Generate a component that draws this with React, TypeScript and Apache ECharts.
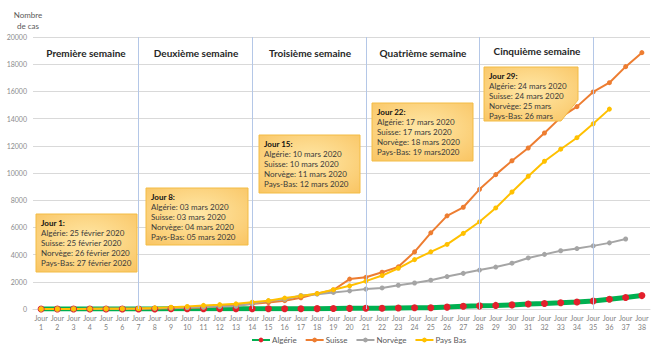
import React, { useEffect, useRef } from "react";
import * as echarts from "echarts";

const dayNumbers = [1,2,3,4,5,6,7,8,9,10,11,12,13,14,15,16,17,18,19,20,21,22,23,24,25,26,27,28,29,30,31,32,33,34,35,36,37,38];
const categories = dayNumbers.map((d) => "Jour\n" + d);

const algerie = [1,1,1,1,1,3,3,5,12,12,17,17,19,20,20,20,24,26,37,48,54,60,74,87,90,139,201,230,264,302,367,409,454,511,584,716,847,986];
const suisse = [1,1,8,8,15,15,27,42,56,90,114,214,268,370,470,610,830,1130,1400,2200,2330,2700,3100,4200,5600,6850,7480,8800,9880,10900,11840,12940,14090,14880,15960,16640,17820,18850];
const norvege = [1,1,6,15,19,25,32,56,87,108,147,176,205,400,598,702,996,1090,1221,1333,1463,1550,1746,1914,2118,2385,2621,2863,3084,3369,3755,4015,4284,4445,4641,4863,5147];
const paysBas = [1,2,7,10,18,24,38,82,128,188,265,321,382,503,614,804,959,1135,1413,1705,2051,2460,2994,3631,4204,4749,5560,6412,7431,8603,9762,10866,11750,12595,13614,14697];

const weekDividers = [7, 14, 21, 28, 35];
const weekTitles = ["Première semaine", "Deuxième semaine", "Troisième semaine", "Quatrième semaine", "Cinquième semaine"];

const notes = [
  { title: "Jour 1:", lines: ["Algérie: 25 février 2020", "Suisse: 25 février 2020", "Norvège: 26 février 2020", "Pays-Bas: 27 février 2020"] },
  { title: "Jour 8:", lines: ["Algérie: 03 mars 2020", "Suisse: 03 mars 2020", "Norvège: 04 mars 2020", "Pays-Bas: 05 mars 2020"] },
  { title: "Jour 15:", lines: ["Algérie: 10 mars 2020", "Suisse: 10 mars 2020", "Norvège: 11 mars 2020", "Pays-Bas: 12 mars 2020"] },
  { title: "Jour 22:", lines: ["Algérie: 17 mars 2020", "Suisse: 17 mars 2020", "Norvège: 18 mars 2020", "Pays-Bas: 19 mars2020"] },
  { title: "Jour 29:", lines: ["Algérie: 24 mars 2020", "Suisse: 24 mars 2020", "Norvège: 25 mars", "Pays-Bas: 26 mars"] },
];

const FONT = "Lato, 'Open Sans', sans-serif";

const boxFill = {
  type: "radial",
  x: 0.5,
  y: 0.45,
  r: 0.75,
  colorStops: [
    { offset: 0, color: "#FFE8A8" },
    { offset: 1, color: "#F9C462" },
  ],
};

export default function App() {
  const ref = useRef<HTMLDivElement>(null);
  useEffect(() => {
    if (!ref.current) return;
    const chart = echarts.init(ref.current, null, { renderer: "svg" });

    const boxes = [
      { x: 36, y: 214, w: 101, h: 58 },
      { x: 146, y: 188, w: 102, h: 57 },
      { x: 259, y: 135, w: 101, h: 58 },
      { x: 372, y: 103, w: 101, h: 58 },
      { x: 484, y: 67, w: 94, h: 54, cut: true },
    ];
    const weekX = [86, 196, 310, 423, 537];
    const weekY = [53, 53, 53, 53, 50.5];

    const graphics: any[] = [];
    weekTitles.forEach((t, i) => {
      graphics.push({
        type: "text",
        x: weekX[i],
        y: weekY[i],
        style: {
          text: t,
          font: "bold 10px " + FONT,
          fill: "#262626",
          textAlign: "center",
          textVerticalAlign: "middle",
        },
        z: 10,
      });
    });
    notes.forEach((n, i) => {
      const b: any = boxes[i];
      if (b.cut) {
        graphics.push({
          type: "polygon",
          shape: {
            points: [
              [b.x, b.y],
              [b.x + b.w, b.y],
              [b.x + b.w, b.y + 33],
              [b.x + b.w - 17, b.y + b.h],
              [b.x, b.y + b.h],
            ],
          },
          style: { fill: boxFill, stroke: "#F3BC45", lineWidth: 1 },
          z: 10,
        });
      } else {
        graphics.push({
          type: "rect",
          shape: { x: b.x, y: b.y, width: b.w, height: b.h },
          style: { fill: boxFill, stroke: "#F3BC45", lineWidth: 1 },
          z: 10,
        });
      }
      graphics.push({
        type: "text",
        x: b.x + 5,
        y: b.y + 4,
        style: {
          text: "{b|" + n.title + "}\n" + n.lines.join("\n"),
          font: "8px " + FONT,
          fill: "#3A3A3A",
          lineHeight: 10,
          rich: {
            b: { font: "bold 8px " + FONT, fill: "#111", lineHeight: 10 },
          },
        },
        z: 11,
      });
    });

    const sym = (color: string, size: number) => ({
      symbol: "circle",
      symbolSize: size,
      itemStyle: { color },
    });

    chart.setOption({
      animation: false,
      textStyle: { fontFamily: FONT },
      title: {
        text: "Nombre\nde cas",
        left: 23,
        top: 4,
        textAlign: "center",
        textStyle: { fontSize: 8, fontWeight: "normal", color: "#595959", lineHeight: 11, fontFamily: FONT },
      },
      grid: { left: 33, right: 9, top: 37, bottom: 43 },
      legend: {
        bottom: 3,
        left: 246,
        itemWidth: 18,
        itemHeight: 6,
        itemGap: 8,
        textStyle: { fontSize: 8, color: "#595959", fontFamily: FONT, padding: [0, 0, 0, -3] },
        data: ["Algérie", "Suisse", "Norvège", "Pays Bas"],
      },
      xAxis: {
        type: "category",
        data: categories,
        boundaryGap: true,
        axisTick: { show: false },
        axisLine: { lineStyle: { color: "#D9D9D9" } },
        axisLabel: { interval: 0, fontSize: 7, lineHeight: 9.5, color: "#7F7F7F", margin: 4, fontFamily: FONT },
        splitLine: { show: false },
      },
      yAxis: {
        type: "value",
        min: 0,
        max: 20000,
        interval: 2000,
        axisLine: { show: false },
        axisTick: { show: false },
        axisLabel: { fontSize: 7, color: "#8C8C8C", margin: 6, fontFamily: FONT, formatter: (v: number) => String(v) },
        splitLine: { lineStyle: { color: "#D9D9D9", width: 1 } },
      },
      graphic: graphics,
      series: [
        {
          name: "Algérie",
          type: "line",
          data: algerie,
          ...sym("#E3202C", 7),
          lineStyle: { color: "#00B050", width: 5 },
          markLine: {
            silent: true,
            symbol: "none",
            label: { show: false },
            lineStyle: { color: "#B4C7E7", type: "solid", width: 1 },
            data: weekDividers.map((d) => ({ xAxis: "Jour\n" + d })),
          },
        },
        {
          name: "Suisse",
          type: "line",
          data: suisse,
          ...sym("#ED7D31", 5),
          lineStyle: { color: "#ED7D31", width: 2 },
        },
        {
          name: "Norvège",
          type: "line",
          data: norvege,
          ...sym("#A5A5A5", 5),
          lineStyle: { color: "#A5A5A5", width: 2 },
        },
        {
          name: "Pays Bas",
          type: "line",
          data: paysBas,
          ...sym("#FFC000", 5),
          lineStyle: { color: "#FFC000", width: 2 },
        },
      ],
    });
    return () => chart.dispose();
  }, []);
  return <div ref={ref} style={{ width: 659, height: 352, position: "absolute", left: 0, top: 0 }} />;
}
